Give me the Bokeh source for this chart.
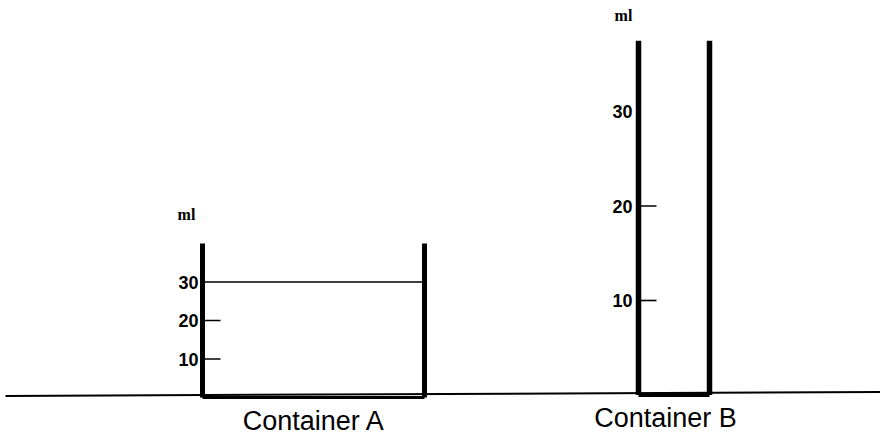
from bokeh.plotting import figure
from bokeh.models import Range1d
from bokeh.core.properties import value
from bokeh.embed import file_html
from bokeh.resources import INLINE

# ---- data ----
containers = ["Container A", "Container B"]
capacity_ml = [40, 37.5]          # height of the container walls (ml)
water_level_ml = 30                # water line drawn in container A
tick_values_a = [10, 20]           # short tick marks, container A
tick_values_b = [10, 20]           # short tick marks, container B
tick_labels_a = ["10", "20", "30"]
tick_labels_b = ["10", "20", "30"]
unit = "ml"

# ---- layout (page-pixel coordinates, frame = page) ----
W, H = 880, 437
PX0, PY0 = 0, 0
# ml scale for each container: page_y = base - k * ml
A_BASE, A_K = 397.0, 3.85
B_BASE, B_K = 394.5, 9.45
A_LEFT, A_RIGHT = 202, 424
B_LEFT, B_RIGHT = 638, 709

def ml_range(base, k):
    return Range1d(start=(base - (PY0 + H)) / k, end=(base - PY0) / k)

p = figure(width=W, height=H, output_backend="svg", toolbar_location=None,
           x_range=Range1d(PX0, PX0 + W), y_range=Range1d(PY0 + H, PY0),
           min_border=0, outline_line_color=None, background_fill_color="white",
           border_fill_color="white")
p.xaxis.visible = False
p.yaxis.visible = False
p.grid.visible = False
p.extra_y_ranges = {"A": ml_range(A_BASE, A_K), "B": ml_range(B_BASE, B_K)}

# ground line (page pixel coords)
p.segment(x0=[5], y0=[395.5], x1=[880], y1=[391.5], line_color="black", line_width=2)

def draw_container(name, left, right, cap, ticks, labels, wall_w, bottom_w, label_x):
    # walls
    p.segment(x0=[left, right], y0=[0, 0], x1=[left, right], y1=[cap, cap],
              y_range_name=name, line_color="black", line_width=wall_w, line_cap="butt")
    # bottom
    p.segment(x0=[left], y0=[0], x1=[right], y1=[0], y_range_name=name,
              line_color="black", line_width=bottom_w)
    # tick marks
    p.segment(x0=[left] * len(ticks), y0=ticks, x1=[left + 18] * len(ticks), y1=ticks,
              y_range_name=name, line_color="black", line_width=1.6)
    # tick labels
    vals = [float(t) for t in labels]
    p.text(x=[label_x] * len(vals), y=vals, text=labels, y_range_name=name,
           text_align="right", text_baseline="middle",
           text_font=value("Liberation Sans"), text_font_style="bold",
           text_font_size="18px", text_color="black")

draw_container("A", A_LEFT, A_RIGHT, capacity_ml[0], tick_values_a, tick_labels_a,
               5, 3, 198)
draw_container("B", B_LEFT, B_RIGHT, capacity_ml[1], tick_values_b, tick_labels_b,
               5.5, 4, 632)

# water level in container A
p.segment(x0=[A_LEFT], y0=[water_level_ml], x1=[A_RIGHT], y1=[water_level_ml],
          y_range_name="A", line_color="black", line_width=1.5)

# unit labels
p.text(x=[186, 623], y=[214, 15], text=[unit, unit], text_align="center",
       text_baseline="middle", text_font=value("Liberation Serif"),
       text_font_style="bold", text_font_size="16px", text_color="black")

# container names
p.text(x=[313.5, 665], y=[420, 417.5], text=containers, text_align="center",
       text_baseline="middle", text_font=value("Liberation Sans"),
       text_font_size="27px", text_color="black")

open("out.html", "w").write(file_html(p, INLINE))
